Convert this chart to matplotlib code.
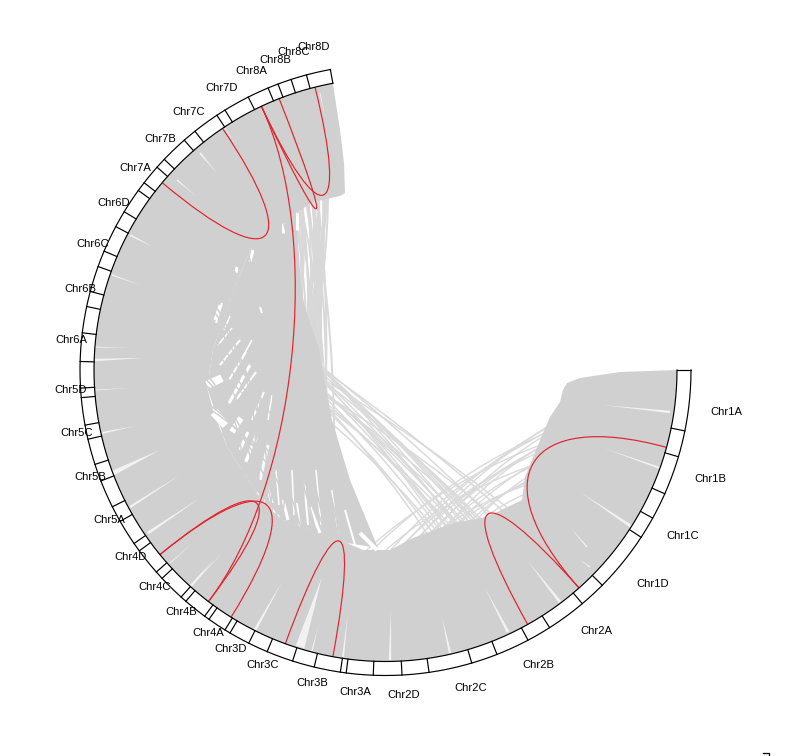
import matplotlib
matplotlib.use("Agg")
import matplotlib.pyplot as plt
import numpy as np
from matplotlib.path import Path
from matplotlib.patches import PathPatch

plt.rcParams['font.family'] = ['Liberation Sans', 'DejaVu Sans']

# circle centre and radii, picture pixels
cx, cy = 385.5, 370
r_in, r_out = 291.5, 305.5

# ring cell borders, degrees clockwise from 3 o'clock
ring_start, ring_end = 0, 259.6
ring_borders = [11.5, 16.5, 23.9, 29, 33.2, 44.8, 49.9, 57.5, 62.2, 68.6, 73.6, 81.8, 86.9, 92.3,
                97.4, 98.5, 103.5, 107.7, 112.8, 116.6, 120.6, 121.7, 125.3, 126.3, 130.8, 132,
                137, 138.6, 143.7, 145.4, 150.3, 153.4, 158.7, 162, 166.9, 169.6, 174.8, 176.6,
                181.6, 187, 192, 194.9, 199.8, 202.9, 208, 211.2, 216, 217.8, 221.6, 223.6,
                228.8, 231.4, 236.5, 238.3, 243.3, 247.4, 249.4, 252, 255]

chr_names = ["Chr1A", "Chr1B", "Chr1C", "Chr1D", "Chr2A", "Chr2B", "Chr2C", "Chr2D",
             "Chr3A", "Chr3B", "Chr3C", "Chr3D", "Chr4A", "Chr4B", "Chr4C", "Chr4D",
             "Chr5A", "Chr5B", "Chr5C", "Chr5D", "Chr6A", "Chr6B", "Chr6C", "Chr6D",
             "Chr7A", "Chr7B", "Chr7C", "Chr7D", "Chr8A", "Chr8B", "Chr8C", "Chr8D"]
chr_x = [726, 710, 683, 653, 596, 538, 471, 404, 355, 312, 263, 231, 208, 181, 155, 131,
         109, 90, 77, 71, 71, 80, 93, 114, 135, 160, 189, 222, 251, 275, 294, 314]
chr_y = [412, 479, 536, 584, 631, 665, 688, 695, 692, 683, 665, 649, 633, 612, 587, 557,
         520, 477, 433, 390, 340, 289, 244, 203, 168, 139, 112, 88, 71, 60, 52, 47]

# inner edge of the grey band, from the top of Chr8D round to Chr1A
edge_x = [333, 340, 344, 345, 340, 313, 297, 268, 250, 230, 213, 207, 213, 227, 253, 263, 283, 320,
          347, 363, 390, 413, 453, 487, 522, 525, 543, 550, 560, 563, 567, 580, 620, 677]
edge_y = [84, 130, 163, 193, 196, 202, 212, 240, 250, 300, 350, 387, 410, 447, 487, 503, 520, 533,
          543, 550, 550, 538, 523, 517, 500, 477, 433, 417, 402, 390, 383, 378, 372, 370]

# dense part of the links between Chr5-7 and Chr3-4
core_x = [250, 296, 302, 318, 332, 350, 378, 347, 283, 253, 227, 207, 213, 230]
core_y = [250, 212, 300, 345, 420, 480, 548, 543, 520, 487, 447, 387, 350, 300]

# white gaps in the dense part: x1, y1, x2, y2, width
gap_x1 = [207, 214, 232, 246, 260, 228, 220, 215, 283, 310, 297, 360, 267, 297, 283, 253, 237, 222, 260,
          240, 236, 252, 229, 218, 268, 276, 292, 304, 316, 332, 345, 241, 224]
gap_y1 = [385, 412, 432, 462, 480, 405, 365, 320, 500, 507, 503, 533, 487, 213, 223, 250, 267, 303, 307,
          450, 400, 420, 380, 345, 420, 470, 470, 480, 470, 490, 510, 360, 330]
gap_x2 = [222, 226, 241, 257, 268, 250, 240, 220, 288, 320, 300, 377, 272, 297, 283, 250, 236, 216, 262,
          248, 256, 264, 246, 232, 272, 279, 294, 308, 321, 339, 355, 252, 230]
gap_y2 = [378, 425, 418, 435, 445, 365, 340, 305, 520, 533, 527, 550, 503, 230, 233, 262, 273, 323, 313,
          432, 372, 392, 352, 328, 395, 505, 515, 525, 525, 535, 545, 340, 316]
gap_w = [8, 9, 6, 4, 3, 3, 2, 3, 3, 3, 2, 4, 3, 3, 3, 3, 3, 2, 2,
         3, 2, 2, 2, 1.5, 1.5, 1.5, 1.5, 2, 1.5, 2, 2, 1.5, 1.5]

# white streaks in the band, ring end first
streak_x1 = [670, 660, 632, 587, 560, 508, 450, 590, 390, 343, 300, 312, 255, 190, 192, 170, 148,
             130, 113, 102, 95, 95, 95, 112, 130, 177, 200, 225, 320]
streak_y1 = [412, 468, 527, 547, 602, 632, 653, 567, 660, 657, 647, 651, 630, 587, 585, 563, 533,
             507, 473, 433, 360, 347, 390, 275, 235, 180, 153, 128, 93]
streak_x2 = [603, 603, 580, 570, 527, 485, 442, 580, 391, 348, 322, 318, 282, 213, 223, 193, 200,
             180, 160, 135, 143, 130, 130, 140, 153, 197, 217, 237, 325]
streak_y2 = [405, 448, 492, 527, 560, 588, 617, 560, 610, 613, 577, 627, 582, 560, 552, 543, 498,
             475, 450, 426, 358, 348, 388, 285, 247, 197, 173, 147, 117]
streak_w = [2.5, 2, 3, 1.5, 3, 3, 2.5, 1.5, 2.5, 2, 9, 1.5, 3, 2.5, 1.5, 1, 3, 2.5, 5, 2, 2.5, 1, 1, 1.5, 2, 1.5, 2, 1, 1]

# grey links from Chr8 down to Chr3-4, seen below the top of the band
top_from = [250, 252, 255, 248, 246, 251, 253, 254, 249, 247, 256, 257, 245, 244, 252, 250,
            250.5, 251.5, 252.5, 253.5, 254.5, 255.5, 256.5, 249.5, 248.5, 247.5, 246.5, 250, 252, 254, 256, 248]
top_to = [108, 115, 125, 120, 112, 118, 122, 128, 130, 126, 132, 135, 116, 124, 110, 104,
          112, 120, 117, 125, 120, 128, 126, 114, 110, 118, 106, 122, 126, 131, 129, 128]

# grey links from Chr6-7 to Chr1-2, the long diagonals
diag_from = [212, 211, 210, 209, 208, 213, 207, 206, 205, 204, 203, 202, 200, 198, 196, 210, 206, 201,
             212, 209, 207, 204, 199, 197]
diag_to = [60, 58, 57, 56, 52, 62, 64, 66, 48, 54, 68, 58, 46, 60, 50, 64, 70, 62,
           66, 61, 55, 60, 55, 66]

# grey links from Chr1 to Chr2D-3B, the short diagonals
low_from = [3, 4, 5, 6, 8, 9, 10, 12, 13, 15, 17, 19, 21, 23, 25, 7, 11, 16]
low_to = [95, 98, 92, 101, 90, 94, 97, 100, 88, 93, 104, 86, 91, 96, 84, 106, 108, 82]

# links over the white gaps of the dense part
core_from = [240, 235, 230, 225, 215, 210, 205, 200, 195, 190, 185, 180, 238, 232, 228, 212,
             222, 218, 208, 198, 192, 188, 178, 172]
core_to = [105, 112, 118, 122, 110, 128, 116, 104, 124, 132, 108, 118, 135, 100, 125, 102,
           130, 98, 122, 112, 100, 126, 110, 130]

# red links: ends in degrees and control radius share
red_from = [15.4, 48.4, 256, 248.6, 244.8, 140.7, 140.7, 100.4, 236]
red_to = [48.4, 60.8, 244.8, 244.8, 127.4, 127.4, 122, 110.1, 220]
red_ctrl = [0.5, 0.48, 0.52, 0.47, 0.5, 0.52, 0.5, 0.48, 0.5]


def on_circle(deg, r):
    a = np.radians(deg)
    return cx + r * np.cos(a), cy + r * np.sin(a)


def draw_link(ax, a, b, ctrl, color, lw, z):
    p1 = on_circle(a, r_in)
    c1 = on_circle(a, r_in * ctrl)
    c2 = on_circle(b, r_in * ctrl)
    p2 = on_circle(b, r_in)
    path = Path([p1, c1, c2, p2], [Path.MOVETO, Path.CURVE4, Path.CURVE4, Path.CURVE4])
    ax.add_patch(PathPatch(path, fc='none', ec=color, lw=lw, zorder=z))


fig = plt.figure(figsize=(7.89, 7.56), dpi=100)
ax = fig.add_axes([0, 0, 1, 1])
ax.set_xlim(0, 789)
ax.set_ylim(756, 0)
ax.axis('off')

grey = '#d0d0d0'

# thin links go under the band, only their middle stays visible
for a, b in zip(top_from, top_to):
    draw_link(ax, a, b, 0.5, '#d8d8d8', 1.4, 0.5)
for a, b in zip(diag_from, diag_to):
    draw_link(ax, a, b, 0.5, '#dadada', 1.1, 0.5)
for a, b in zip(low_from, low_to):
    draw_link(ax, a, b, 0.6, '#dadada', 1.0, 0.5)

# band
arc = np.linspace(ring_start, ring_end, 300)
ax_x, ax_y = on_circle(arc, r_in)
ax.fill(np.r_[ax_x, edge_x], np.r_[ax_y, edge_y], color=grey, lw=0, zorder=1)
ax.fill(core_x, core_y, color=grey, lw=0, zorder=1)

for x1, y1, x2, y2, w in zip(gap_x1, gap_y1, gap_x2, gap_y2, gap_w):
    ax.plot([x1, x2], [y1, y2], color='white', lw=w * 0.72, solid_capstyle='butt', zorder=2)

for a, b in zip(core_from, core_to):
    draw_link(ax, a, b, 0.5, grey, 1.1, 3)

for x1, y1, x2, y2, w in zip(streak_x1, streak_y1, streak_x2, streak_y2, streak_w):
    dx, dy = x2 - x1, y2 - y1
    n = np.hypot(dx, dy)
    ox, oy = -dy / n * w / 2, dx / n * w / 2
    ax.fill([x1 + ox, x2, x1 - ox], [y1 + oy, y2, y1 - oy], color='#f2f2f2', lw=0, zorder=4)

for a, b, c in zip(red_from, red_to, red_ctrl):
    draw_link(ax, a, b, c, '#e3222c', 0.85, 5)

# ring
for r in (r_in, r_out):
    x, y = on_circle(arc, r)
    ax.plot(x, y, color='black', lw=0.85, zorder=6)
for d in [ring_start] + ring_borders + [ring_end]:
    x0, y0 = on_circle(d, r_in)
    x1, y1 = on_circle(d, r_out)
    ax.plot([x0, x1], [y0, y1], color='black', lw=0.85, zorder=6)

for name, x, y in zip(chr_names, chr_x, chr_y):
    ax.text(x, y, name, fontsize=8.1, ha='center', va='center', color='black', zorder=7)

# stray mark in the lower right corner of the page
ax.plot([763, 769, 769], [753, 753, 756], color='black', lw=0.9)

fig.savefig("out.png", dpi=100)
